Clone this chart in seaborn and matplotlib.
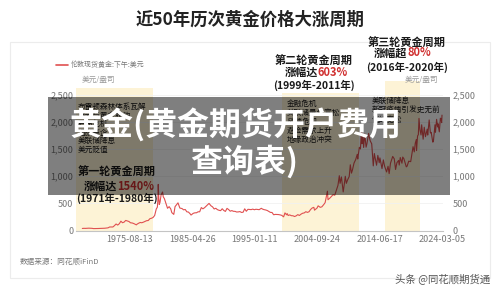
import matplotlib
matplotlib.use("Agg")
import matplotlib.pyplot as plt
import seaborn as sns
import pandas as pd
from matplotlib.patches import Rectangle

# ---------------- data ----------------
dates = [
    "1968-04-01", "1968-07-01", "1968-10-01", "1969-01-01", "1969-04-01", "1969-07-01", "1969-10-01",
    "1970-01-01", "1970-04-01", "1970-07-01", "1970-10-01", "1971-01-01", "1971-04-01", "1971-07-01",
    "1971-10-01", "1972-01-01", "1972-04-01", "1972-07-01", "1972-10-01", "1973-01-01", "1973-04-01",
    "1973-07-01", "1973-10-01", "1974-01-01", "1974-04-01", "1974-07-01", "1974-10-01", "1974-12-30",
    "1975-04-01", "1975-07-01", "1975-10-01", "1976-01-01", "1976-04-01", "1976-08-25", "1976-10-01",
    "1977-01-01", "1977-04-01", "1977-07-01", "1977-10-01", "1978-01-01", "1978-04-01", "1978-07-01",
    "1978-10-01", "1979-01-01", "1979-04-01", "1979-07-01", "1979-10-01", "1979-12-01", "1980-01-02",
    "1980-01-21", "1980-02-15", "1980-03-18", "1980-05-01", "1980-07-01", "1980-09-22", "1980-11-01",
    "1981-01-01", "1981-04-01", "1981-07-01", "1981-10-01", "1982-01-01", "1982-03-01", "1982-06-21",
    "1982-09-01", "1983-02-15", "1983-06-01", "1983-10-01", "1984-01-01", "1984-04-01", "1984-07-01",
    "1984-10-01", "1985-01-01", "1985-02-25", "1985-07-01", "1985-10-01", "1986-01-01", "1986-04-01",
    "1986-07-01", "1986-10-01", "1987-01-01", "1987-04-01", "1987-07-01", "1987-12-14", "1988-04-01",
    "1988-07-01", "1988-10-01", "1989-01-01", "1989-04-01", "1989-07-01", "1989-10-01", "1990-01-01",
    "1990-04-01", "1990-07-01", "1990-10-01", "1991-01-01", "1991-04-01", "1991-07-01", "1991-10-01",
    "1992-01-01", "1992-04-01", "1992-07-01", "1992-10-01", "1993-01-01", "1993-04-01", "1993-07-01",
    "1993-10-01", "1994-01-01", "1994-04-01", "1994-07-01", "1994-10-01", "1995-01-01", "1995-04-01",
    "1995-07-01", "1995-10-01", "1996-02-01", "1996-04-01", "1996-07-01", "1996-10-01", "1997-01-01",
    "1997-04-01", "1997-07-01", "1997-10-01", "1998-01-01", "1998-04-01", "1998-07-01", "1998-10-01",
    "1999-01-01", "1999-04-01", "1999-07-20", "1999-10-05", "2000-01-01", "2000-02-07", "2000-04-01",
    "2000-07-01", "2000-10-01", "2001-01-01", "2001-04-02", "2001-07-01", "2001-10-01", "2002-01-01",
    "2002-04-01", "2002-07-01", "2002-10-01", "2003-01-01", "2003-04-01", "2003-07-01", "2003-10-01",
    "2004-01-01", "2004-04-01", "2004-05-10", "2004-10-01", "2004-12-01", "2005-04-01", "2005-07-01",
    "2005-10-01", "2006-01-01", "2006-05-12", "2006-06-14", "2006-10-01", "2007-01-01", "2007-04-01",
    "2007-07-01", "2007-10-01", "2008-01-01", "2008-03-17", "2008-05-01", "2008-07-15", "2008-10-24",
    "2009-01-01", "2009-02-20", "2009-04-20", "2009-07-01", "2009-10-01", "2009-12-02", "2010-02-05",
    "2010-04-01", "2010-07-01", "2010-10-01", "2011-01-01", "2011-01-28", "2011-04-29", "2011-07-01",
    "2011-09-05", "2011-09-26", "2011-11-08", "2011-12-29", "2012-02-28", "2012-05-16", "2012-07-01",
    "2012-10-04", "2013-01-01", "2013-04-01", "2013-06-28", "2013-08-27", "2013-12-31", "2014-03-14",
    "2014-06-01", "2014-07-10", "2014-11-06", "2015-01-22", "2015-04-01", "2015-07-24", "2015-10-15",
    "2015-12-17", "2016-03-01", "2016-07-06", "2016-10-01", "2016-12-15", "2017-03-01", "2017-06-06",
    "2017-07-10", "2017-09-08", "2017-12-12", "2018-01-25", "2018-04-01", "2018-08-16", "2018-10-01",
    "2019-01-01", "2019-04-23", "2019-07-01", "2019-09-04", "2019-11-12", "2020-01-08", "2020-03-09",
    "2020-03-19", "2020-05-18", "2020-07-01", "2020-08-06", "2020-09-28", "2020-11-30", "2021-01-05",
    "2021-03-30", "2021-06-01", "2021-08-09", "2021-11-16", "2021-12-15", "2022-03-08", "2022-05-16",
    "2022-07-01", "2022-09-28", "2022-11-01", "2023-02-01", "2023-02-28", "2023-05-04", "2023-06-29",
    "2023-07-20", "2023-10-05", "2023-12-04", "2024-01-01", "2024-02-14", "2024-03-05",
]
prices = [
    38, 40, 39, 41, 43, 42, 40,
    35, 35, 36, 37, 38, 39, 41,
    42, 46, 49, 65, 64, 65, 90,
    120, 100, 125, 172, 143, 155, 186,
    177, 166, 142, 139, 128, 104, 116,
    134, 148, 143, 154, 168, 181, 184,
    217, 226, 240, 277, 397, 430, 560,
    850, 640, 480, 520, 660, 710, 620,
    590, 500, 410, 440, 397, 330, 297,
    440, 510, 414, 405, 381, 388, 345,
    340, 309, 285, 317, 326, 327, 345,
    345, 423, 400, 420, 448, 500, 456,
    436, 397, 410, 385, 373, 366, 401,
    369, 352, 408, 386, 356, 367, 354,
    353, 341, 343, 349, 333, 337, 400,
    355, 391, 389, 385, 394, 383, 392,
    387, 384, 410, 396, 385, 379, 369,
    351, 334, 332, 290, 297, 296, 294,
    288, 280, 252, 325, 290, 312, 277,
    288, 273, 272, 258, 270, 293, 277,
    301, 318, 324, 347, 334, 346, 388,
    416, 427, 375, 415, 455, 427, 437,
    473, 513, 725, 567, 599, 632, 662,
    650, 743, 834, 1011, 870, 988, 712,
    870, 1000, 870, 934, 996, 1212, 1058,
    1115, 1244, 1307, 1405, 1319, 1535, 1505,
    1895, 1600, 1790, 1531, 1781, 1537, 1598,
    1791, 1657, 1598, 1192, 1420, 1204, 1385,
    1250, 1339, 1142, 1302, 1187, 1080, 1185,
    1049, 1240, 1366, 1322, 1126, 1250, 1293,
    1207, 1346, 1241, 1355, 1324, 1174, 1187,
    1279, 1270, 1409, 1546, 1450, 1610, 1680,
    1474, 1745, 1768, 2067, 1860, 1762, 1950,
    1684, 1905, 1730, 1870, 1760, 2039, 1800,
    1810, 1630, 1640, 1950, 1810, 2050, 1910,
    1970, 1820, 2072, 2062, 1990, 2128,
]
tick_dates = ["1975-08-13", "1985-04-26", "1995-01-11", "2004-09-24", "2014-06-17", "2024-03-05"]
y_ticks = [0, 500, 1000, 1500, 2000, 2500]
span_starts = ["1967-05-01", "1999-04-01", "2015-05-01"]
span_ends = ["1979-03-15", "2011-04-15", "2020-09-15"]
span_tops = [2630, 2540, 2760]
series_name = "伦敦现货黄金:下午:美元"
unit_label = "美元/盎司"
title = "近50年历次黄金价格大涨周期"
overlay_lines = ["黄金(黄金期货开户费用", "查询表)"]

# ---------------- figure ----------------
sns.set_theme(style="white")
plt.rcParams['font.family'] = ['Noto Sans CJK SC', 'DejaVu Sans']
plt.rcParams['axes.unicode_minus'] = False

W, H = 500, 293
fig = plt.figure(figsize=(W / 100, H / 100), dpi=100)
fig.patch.set_facecolor("white")


def fx(x):
    return x / W


def fy(y):
    return 1 - y / H


# card border
fig.patches.append(Rectangle((fx(10), fy(278)), (490 - 10) / W, (278 - 42) / H,
                             transform=fig.transFigure, facecolor="none",
                             edgecolor="#ececec", lw=0.8, zorder=0))

y0_px, y_top_px = 230.5, 78.7
ax = fig.add_axes([fx(76), fy(y0_px), (443 - 76) / W, (y0_px - y_top_px) / H])
ax.set_facecolor("none")

df = pd.DataFrame({"date": pd.to_datetime(dates), "price": prices})

for s, e, t in zip(span_starts, span_ends, span_tops):
    ax.fill_between(pd.to_datetime([s, e]), 0, t, color="#fdf3d6", lw=0, zorder=0)

for yv in y_ticks[1:]:
    ax.axhline(yv, color="#f1f1f1", lw=0.6, zorder=0.5)

sns.lineplot(data=df, x="date", y="price", ax=ax, color="#e05050", lw=0.8, zorder=2)

ax.set_xlim(pd.Timestamp("1967-04-08"), pd.Timestamp("2024-05-01"))
ax.set_ylim(0, 2800)
ax.set_xticks(pd.to_datetime(tick_dates))
ax.set_xticklabels(tick_dates)
ax.set_yticks(y_ticks)
ax.set_yticklabels([f"{v:,}" for v in y_ticks])
ax.set_xlabel("")
ax.set_ylabel("")
for sp in ["top", "right", "left"]:
    ax.spines[sp].set_visible(False)
ax.spines["bottom"].set_color("#c4c4c4")
ax.spines["bottom"].set_linewidth(0.8)
ax.tick_params(axis="x", length=0, pad=3, labelsize=6.5, labelcolor="#777777")
ax.tick_params(axis="y", length=0, pad=2, labelsize=6.5, labelcolor="#777777")

ax2 = ax.twinx()
ax2.set_ylim(0, 2800)
ax2.set_yticks(y_ticks)
ax2.set_yticklabels([f"{v:,}" for v in y_ticks])
for sp in ax2.spines.values():
    sp.set_visible(False)
ax2.tick_params(axis="y", length=0, pad=7, labelsize=6.5, labelcolor="#777777")
ax2.grid(False)
ax.grid(False)

# ---------------- texts ----------------
fig.text(fx(250), fy(20), title, ha="center", va="center", fontsize=12.5,
         fontweight="bold", color="#222222")

# legend
fig.lines.append(plt.Line2D([fx(56), fx(68)], [fy(65), fy(65)], transform=fig.transFigure,
                            color="#e05050", lw=1.2))
fig.text(fx(71), fy(65), series_name, ha="left", va="center", fontsize=5, color="#777777")
fig.text(fx(82), fy(80), unit_label, ha="left", va="center", fontsize=5.5, color="#999999")
fig.text(fx(405), fy(80), unit_label, ha="left", va="center", fontsize=5.5, color="#999999")

# cycle annotations
blk = "#1a1a1a"
red = "#d03030"


def cycle(x_name, x_mid, y1, y2, y3, name, lead, pct, period):
    fig.text(fx(x_name), fy(y1), name, ha="center", va="center", fontsize=8,
             fontweight="bold", color=blk)
    fig.text(fx(x_mid), fy(y2), lead, ha="right", va="center", fontsize=8,
             fontweight="bold", color=blk)
    fig.text(fx(x_mid), fy(y2), pct, ha="left", va="center", fontsize=8,
             fontweight="bold", color=red)
    fig.text(fx(x_name), fy(y3), period, ha="center", va="center", fontsize=7.5,
             fontweight="bold", color=blk)


cycle(117, 117, 171, 186, 198, "第一轮黄金周期", "涨幅达", "1540%", "(1971年-1980年)")
cycle(314, 318, 60, 72, 85, "第二轮黄金周期", "涨幅达", "603%", "(1999年-2011年)")
cycle(407, 407, 42, 53, 67, "第三轮黄金周期", "涨幅超", "80%", "(2016年-2020年)")

left_notes = ["布雷顿森林体系瓦解", "美元与黄金脱钩", "石油危机", "通胀高企", "美联储降息", "美元贬值"]
for i, t in enumerate(left_notes):
    fig.text(fx(78), fy(107 + i * 8.6), t, ha="left", va="center", fontsize=5.5, color=blk)

mid_notes = ["金融危机", "美联储量化宽松", "欧债危机", "避险需求上升", "地缘政治冲突"]
for i, t in enumerate(mid_notes):
    fig.text(fx(287), fy(104 + i * 9), t, ha="left", va="center", fontsize=5.5, color=blk)

right_notes = ["美联储降息", "新冠疫情引发史无前", "例的宽松"]
for i, t in enumerate(right_notes):
    fig.text(fx(372), fy(101 + i * 9.5), t, ha="left", va="center", fontsize=5.5, color=blk)

fig.text(fx(20), fy(262), "数据来源：同花顺iFinD", ha="left", va="center", fontsize=5.5,
         color="#777777")
fig.text(fx(490), fy(279), "头条 @同花顺期货通", ha="right", va="center", fontsize=7.5,
         color="#555555")

# overlay
fig.patches.append(Rectangle((fx(48), fy(195)), (450 - 48) / W, (195 - 97) / H,
                             transform=fig.transFigure, facecolor="black", alpha=0.5,
                             lw=0, zorder=10))
fig.text(fx(235), fy(125), overlay_lines[0], ha="center", va="center", fontsize=23,
         fontweight="bold", color="white", zorder=11)
fig.text(fx(244), fy(162), overlay_lines[1], ha="center", va="center", fontsize=23,
         fontweight="bold", color="white", zorder=11)

fig.savefig("out.png", dpi=100, facecolor="white")
